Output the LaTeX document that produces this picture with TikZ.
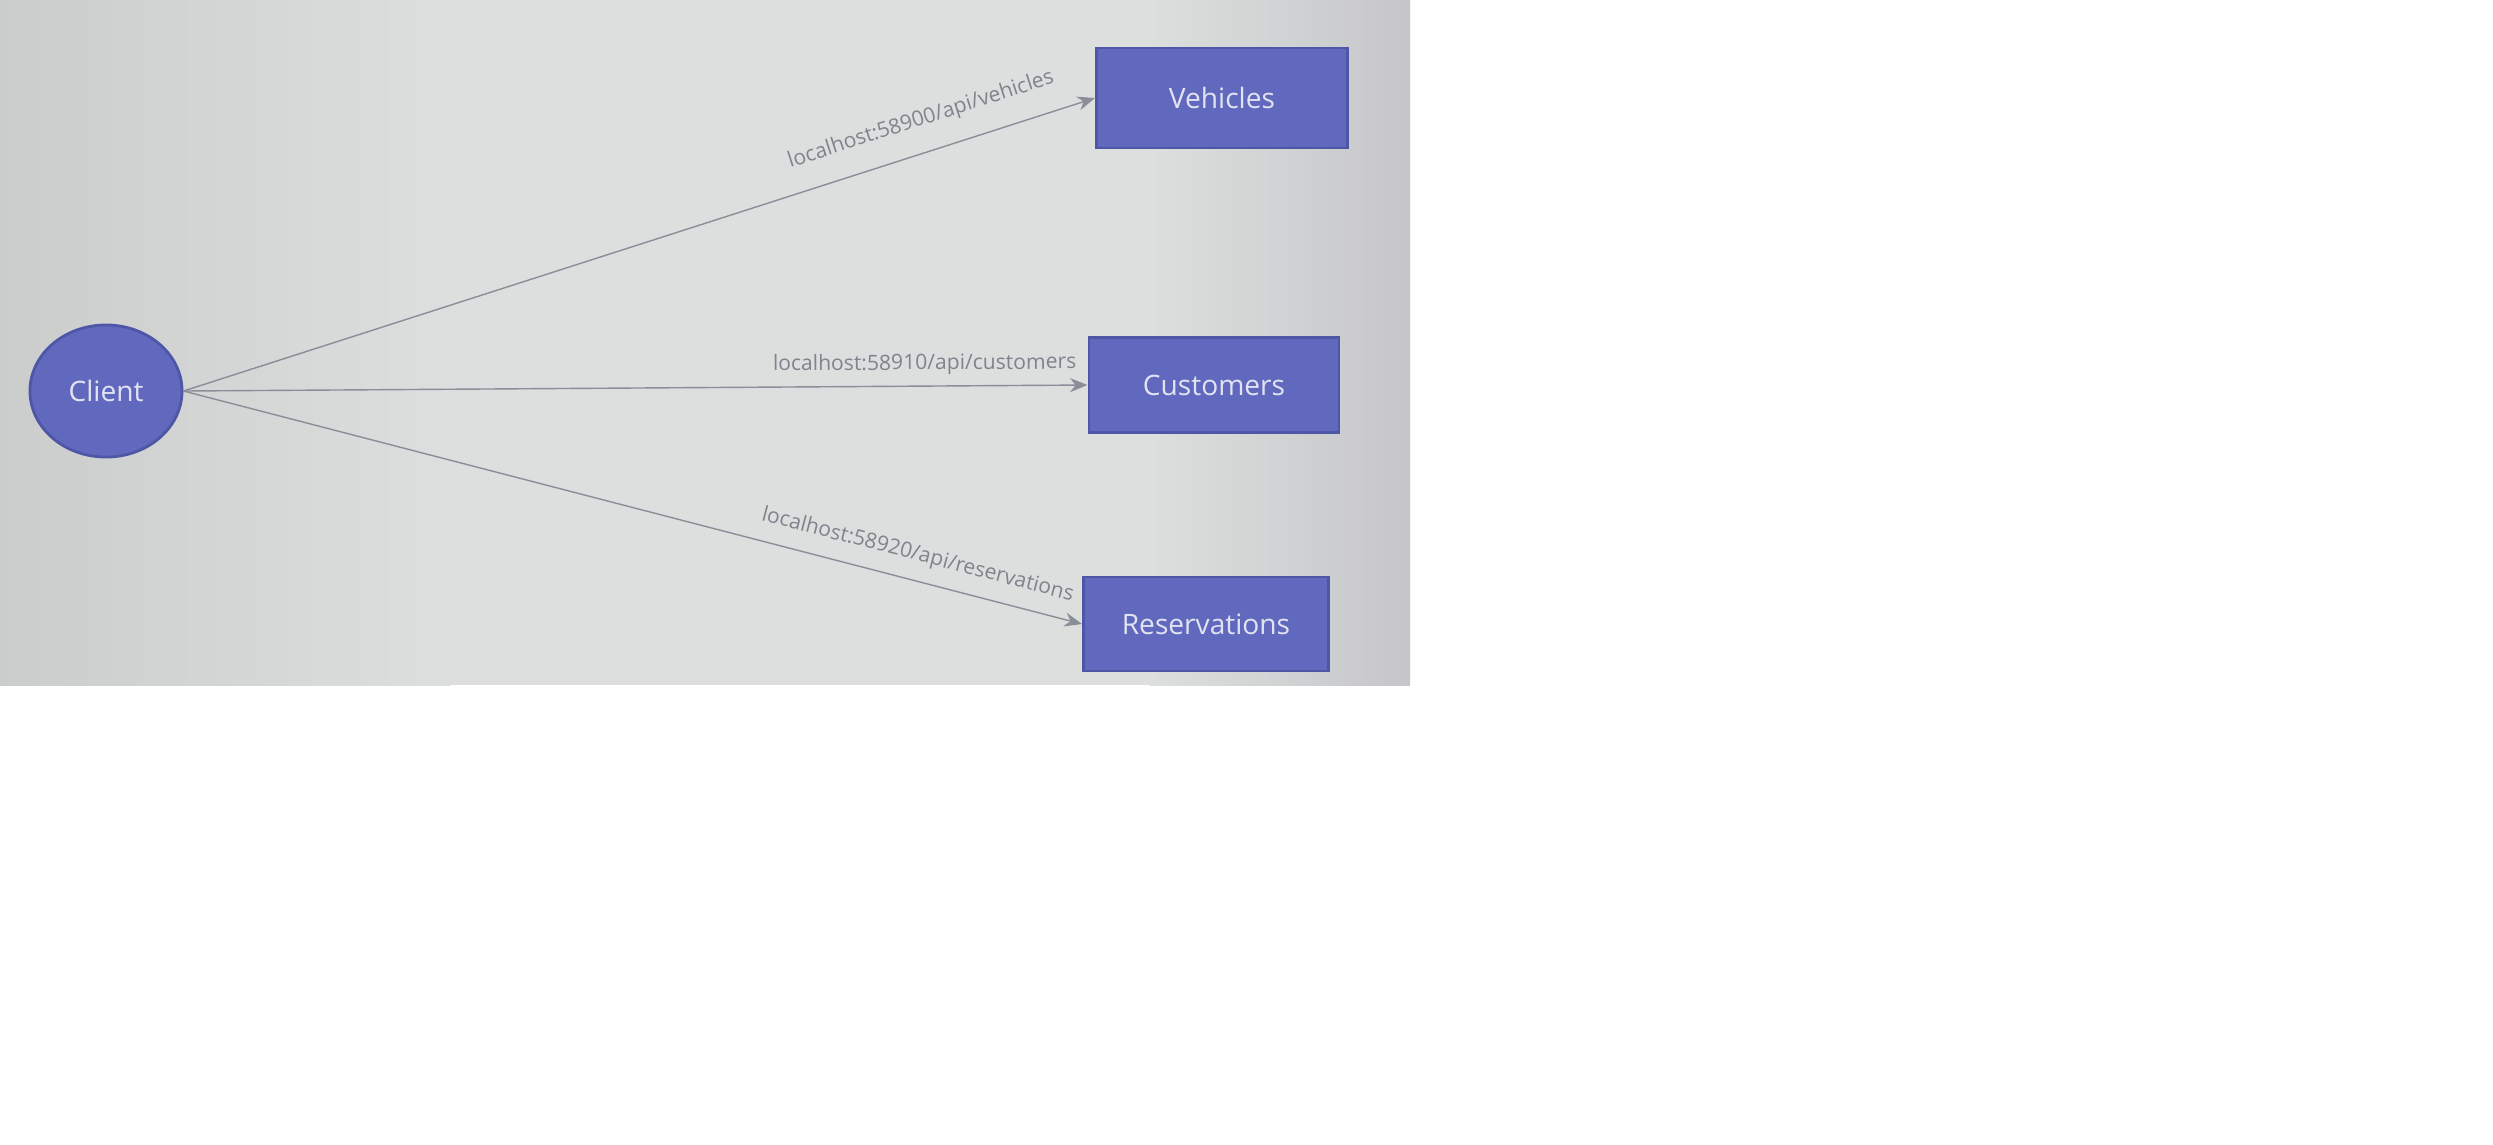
\documentclass[tikz,border=0pt]{standalone}
\usepackage{fontspec}
\setmainfont{Open Sans}
\usetikzlibrary{shapes.geometric,arrows.meta}
\definecolor{bgmid}{HTML}{DCDFDE}
\definecolor{bgleft}{HTML}{CBCDCD}
\definecolor{bgright}{HTML}{C6C6C9}
\definecolor{boxblue}{HTML}{6069BD}
\definecolor{boxedge}{HTML}{4E57A6}
\definecolor{boxtext}{HTML}{E2E3F2}
\definecolor{lbl}{HTML}{7E848C}
\definecolor{wire}{HTML}{8A8E98}
\tikzset{
  svc/.style={draw=boxedge, line width=0.8pt, fill=boxblue, text=boxtext,
    font=\fontsize{8}{9}\selectfont, inner sep=0pt},
  wirestyle/.style={draw=wire, line width=0.4pt, -{Stealth[length=5pt,width=4pt]}},
  urllbl/.style={text=lbl, font=\fontsize{6}{7}\selectfont, sloped, inner sep=1pt}
}
\begin{document}
\begin{tikzpicture}[x=0.01cm,y=-0.01cm]
\useasboundingbox (0,0) rectangle (2493,1144);
\fill[white] (0,0) rectangle (2493,1144);
\fill[bgmid] (0,0) rectangle (1410,685);
\shade[left color=bgleft, right color=bgmid] (0,0) rectangle (450,685);
\shade[left color=bgmid, right color=bgright] (1150,0) rectangle (1410,685);

\node[svc, ellipse, minimum width=1.52cm, minimum height=1.32cm] (client) at (106,391) {Client};
\node[svc, rectangle, minimum width=2.51cm, minimum height=1.0cm] (veh) at (1222,98) {Vehicles};
\node[svc, rectangle, minimum width=2.50cm, minimum height=0.95cm] (cust) at (1214,385) {Customers};
\node[svc, rectangle, minimum width=2.45cm, minimum height=0.94cm] (res) at (1206,624) {Reservations};

\draw[wirestyle] (client.east) -- (veh.west)
  node[urllbl, pos=0.82, above=5pt] {localhost:58900/api/vehicles};
\draw[wirestyle] (client.east) -- (cust.west)
  node[urllbl, pos=0.82, above=2pt] {localhost:58910/api/customers};
\draw[wirestyle] (client.east) -- (res.west)
  node[urllbl, pos=0.81, above=3pt] {localhost:58920/api/reservations};
\end{tikzpicture}
\end{document}
